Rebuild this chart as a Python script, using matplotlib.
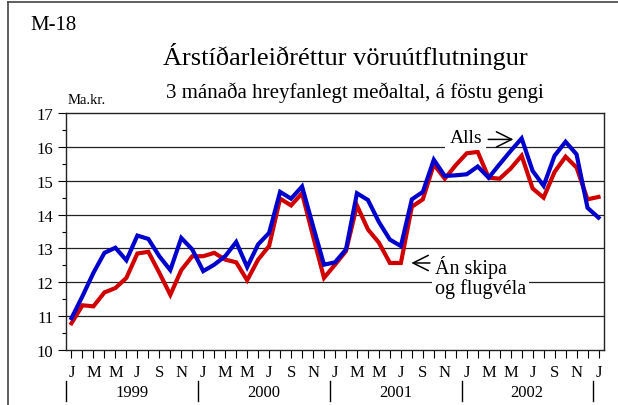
import matplotlib
matplotlib.use("Agg")
import matplotlib.pyplot as plt
from matplotlib.lines import Line2D
import numpy as np

plt.rcParams['font.family'] = ['Liberation Serif', 'DejaVu Serif']

month_labels = ["J", "F", "M", "A", "M", "J", "J", "A", "S", "O", "N", "D"]
years = ["1999", "2000", "2001", "2002"]

alls = [10.94, 11.59, 12.28, 12.87, 13.02, 12.65, 13.38, 13.28, 12.77, 12.36, 13.31, 12.97,
        12.33, 12.52, 12.77, 13.19, 12.45, 13.12, 13.46, 14.67, 14.47, 14.83, 13.66, 12.52,
        12.59, 12.97, 14.63, 14.43, 13.78, 13.26, 13.07, 14.45, 14.67, 15.62, 15.14, 15.16,
        15.19, 15.42, 15.09, 15.49, 15.88, 16.25, 15.29, 14.85, 15.74, 16.15, 15.78, 14.20,
        13.91]
an_skipa = [10.79, 11.32, 11.29, 11.70, 11.83, 12.13, 12.85, 12.90, 12.28, 11.63, 12.36, 12.77,
            12.77, 12.87, 12.67, 12.59, 12.06, 12.67, 13.07, 14.47, 14.27, 14.63, 13.36, 12.13,
            12.52, 12.92, 14.27, 13.56, 13.17, 12.57, 12.57, 14.23, 14.45, 15.48, 15.06, 15.46,
            15.81, 15.85, 15.09, 15.06, 15.36, 15.74, 14.77, 14.50, 15.26, 15.71, 15.39, 14.45,
            14.52]

n = len(alls)
x = np.arange(n)

fig = plt.figure(figsize=(6.18, 4.06), dpi=100)
ax = fig.add_axes([66/618, 1-351/406, (604-66)/618, (351-114)/406])

ax.set_xlim(-0.5, n - 0.5)
ax.set_ylim(10, 17)
for v in range(11, 17):
    ax.axhline(v, color='#222222', lw=0.9, zorder=1)

ax.plot(x, an_skipa, color='#d00000', lw=3.0, zorder=3, solid_joinstyle='miter')
ax.plot(x, alls, color='#0000cc', lw=3.0, zorder=4, solid_joinstyle='miter')

for s in ax.spines.values():
    s.set_linewidth(1.0)
    s.set_color('#222222')

ax.set_yticks(range(10, 18))
ax.set_yticks(np.arange(10.5, 17, 1), minor=True)
ax.tick_params(axis='y', which='major', direction='out', length=6, width=0.8, labelsize=12, pad=3)
ax.tick_params(axis='y', which='minor', direction='out', length=3, width=0.8)
ax.set_xticks(x)
ax.set_xticklabels([month_labels[i % 12] if i % 2 == 0 else "" for i in x])
ax.tick_params(axis='x', direction='out', length=6, width=0.8, labelsize=12, pad=4)

# year labels and separators
trans = ax.get_xaxis_transform()
for k, yr in enumerate(years):
    ax.text(12*k + 5.5, -0.178, yr, transform=trans, ha='center', va='center', fontsize=12)
for k in range(len(years) + 1):
    pos = 12*k - 0.47
    ax.add_line(Line2D([pos, pos], [-0.13, -0.215], transform=trans, color='black',
                       lw=1.0, clip_on=False))

# annotations
ax.text(35.9, 16.28, "Alls", ha='center', va='center', fontsize=14,
        bbox=dict(facecolor='white', edgecolor='none', pad=3), zorder=5)
ax.annotate("", xy=(40.5, 16.22), xytext=(37.7, 16.22),
            arrowprops=dict(arrowstyle='->,head_length=0.5,head_width=0.25', color='black',
                            lw=1.1, mutation_scale=22), zorder=6)
ax.text(33.1, 12.17, "Án skipa\nog flugvéla", ha='left', va='center', fontsize=14.5,
        linespacing=0.95, bbox=dict(facecolor='white', edgecolor='none', pad=2), zorder=5)
ax.annotate("", xy=(30.7, 12.57), xytext=(32.9, 12.57),
            arrowprops=dict(arrowstyle='->,head_length=0.5,head_width=0.25', color='black',
                            lw=1.1, mutation_scale=22), zorder=6)

# titles
fig.text(30/618, 1-25/406, "M-18", ha='left', va='center', fontsize=15)
fig.text(345/618, 1-57/406, "Árstíðarleiðréttur vöruútflutningur", ha='center', va='center', fontsize=19)
fig.text(355/618, 1-93/406, "3 mánaða hreyfanlegt meðaltal, á föstu gengi", ha='center', va='center', fontsize=15)
fig.text(87/618, 1-100/406, "Ma.kr.", ha='center', va='center', fontsize=10.5)

# outer frame
fig.add_artist(Line2D([8/618, 8/618], [0, 1-3/406], transform=fig.transFigure, color='#444444', lw=1.2))
fig.add_artist(Line2D([8/618, 1], [1-3/406, 1-3/406], transform=fig.transFigure, color='#444444', lw=1.2))

fig.savefig("out.png", dpi=100)
